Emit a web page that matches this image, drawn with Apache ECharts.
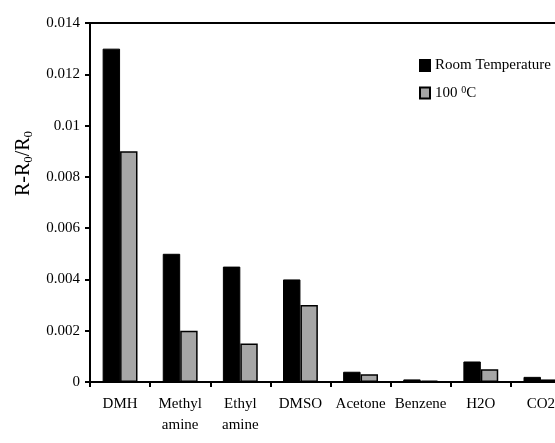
<!DOCTYPE html>
<html>
<head>
<meta charset="utf-8">
<script src="https://cdn.jsdelivr.net/npm/echarts@6/dist/echarts.min.js"></script>
<style>html,body{margin:0;padding:0;background:#fff;overflow:hidden;width:555px;height:443px}#c{width:580px;height:443px}</style>
</head>
<body>
<div id="c"></div>
<script>
var categories = ['DMH', 'Methyl\namine', 'Ethyl\namine', 'DMSO', 'Acetone', 'Benzene', 'H2O', 'CO2'];
var roomTemp = [0.013, 0.005, 0.0045, 0.004, 0.0004, 0.0001, 0.0008, 0.0002];
var hot100 = [0.009, 0.002, 0.0015, 0.003, 0.0003, 0.00005, 0.0005, 0.0001];
var seriesNames = ['Room Temperature', '100 0C'];

var FONT = '"Liberation Serif", "DejaVu Serif", serif';
var chart = echarts.init(document.getElementById('c'));
chart.setOption({
  animation: false,
  backgroundColor: '#fff',
  textStyle: {fontFamily: FONT, color: '#000'},
  grid: {left: 90, top: 23, bottom: 61, right: 9, show: true, borderColor: '#000', borderWidth: 2, backgroundColor: 'transparent'},
  legend: {
    orient: 'vertical', left: 419, top: 58, itemGap: 12, padding: 0,
    itemWidth: 10, itemHeight: 11,
    icon: 'rect',
    textStyle: {fontFamily: FONT, fontSize: 15, color: '#000',
      rich: {sup: {fontSize: 10, verticalAlign: 'top', fontFamily: FONT, padding: [0,0,6,0]}, n: {fontSize: 15, fontFamily: FONT}}},
    formatter: function (name) {
      if (name === seriesNames[1]) return '{n|100 }{sup|0}{n|C}';
      return name;
    },
    data: seriesNames
  },
  xAxis: {
    type: 'category', data: categories,
    axisLine: {lineStyle: {color: '#000', width: 2}},
    axisTick: {show: true, length: 5, lineStyle: {color: '#000', width: 2}},
    axisLabel: {fontFamily: FONT, fontSize: 15, color: '#000', margin: 12, lineHeight: 21, interval: 0}
  },
  yAxis: {
    type: 'value', min: 0, max: 0.014, interval: 0.002,
    splitLine: {show: false},
    axisLine: {show: true, lineStyle: {color: '#000', width: 2}},
    axisTick: {show: true, length: 5, lineStyle: {color: '#000', width: 2}},
    axisLabel: {fontFamily: FONT, fontSize: 15, color: '#000', margin: 10,
      formatter: function (v) { return String(+v.toFixed(3)); }},
    name: '{m|R-R}{s|0}{m|/R}{s|0}',
    nameLocation: 'middle', nameRotate: 90, nameGap: 52,
    nameTextStyle: {fontFamily: FONT, color: '#000', padding: [0, 0, 0, 78],
      rich: {m: {fontSize: 20, fontFamily: FONT, lineHeight: 24}, s: {fontSize: 13, fontFamily: FONT, verticalAlign: 'bottom', padding: [7,0,0,0]}}}
  },
  series: [
    {name: seriesNames[0], type: 'bar', data: roomTemp, barGap: '0%', barCategoryGap: '42%',
      itemStyle: {color: '#000', borderColor: '#000', borderWidth: 1}},
    {name: seriesNames[1], type: 'bar', data: hot100, barGap: '0%', barCategoryGap: '42%',
      itemStyle: {color: '#a6a6a6', borderColor: '#000', borderWidth: 1.5}}
  ]
});
</script>
</body>
</html>
